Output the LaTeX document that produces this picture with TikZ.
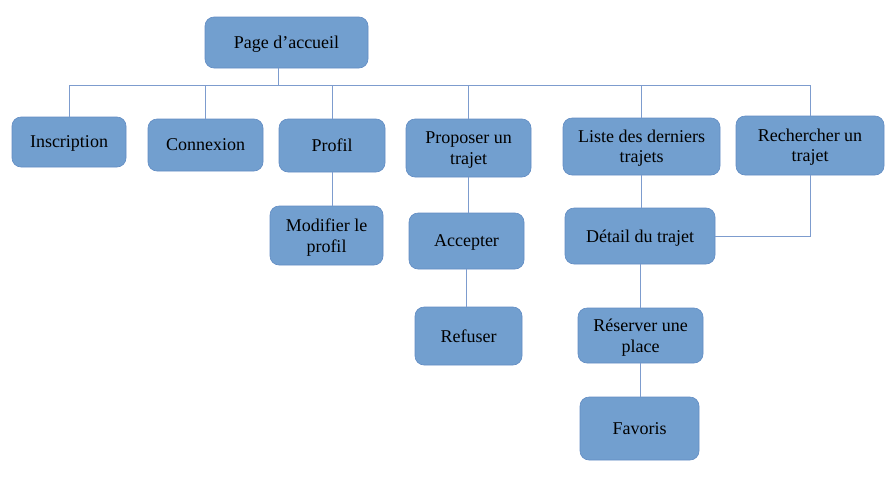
\documentclass[tikz,border=0pt]{standalone}
\usepackage{fontspec}
\setmainfont{Liberation Serif}
\usepackage{tikz}
\usepackage{xcolor}
\definecolor{bleu}{RGB}{114,159,207}
\definecolor{bord}{RGB}{98,140,195}
\definecolor{trait}{RGB}{125,156,206}

\begin{document}
\begin{tikzpicture}[x=1pt,y=-1pt,
		boite/.style={rectangle,rounded corners=9pt,fill=bleu,draw=bord,line width=0.6pt,
			align=center,inner sep=0pt,text depth=0pt,font=\fontsize{18}{20.5}\selectfont},
		lien/.style={draw=trait,line width=0.8pt}]
			\useasboundingbox (0,0) rectangle (893,493);
			\coordinate (1) at (286.5,42.5);
			\coordinate (2) at (69,142);
			\coordinate (3) at (205.5,145);
			\coordinate (4) at (332,145.5);
			\coordinate (5) at (468.5,148);
			\coordinate (6) at (641.5,146.5);
			\coordinate (7) at (810,145.5);
			\coordinate (8) at (326.5,235.5);
			\coordinate (9) at (466.5,241);
			\coordinate (10) at (640,236);
			\coordinate (11) at (468.5,336);
			\coordinate (12) at (640.5,335.5);
			\coordinate (13) at (639.5,428.5);
			\coordinate (bus) at (278,85);
			\node [boite,minimum width=163pt,minimum height=51pt] (accueil) at (1) {Page d’accueil};
			\node [boite,minimum width=114pt,minimum height=50pt] (inscription) at (2) {Inscription};
			\node [boite,minimum width=115pt,minimum height=52pt] (connexion) at (3) {Connexion};
			\node [boite,minimum width=106pt,minimum height=53pt] (profil) at (4) {Profil};
			\node [boite,minimum width=125pt,minimum height=58pt] (proposer) at (5) {Proposer un\\trajet};
			\node [boite,minimum width=157pt,minimum height=57pt] (liste) at (6) {Liste des derniers\\trajets};
			\node [boite,minimum width=148pt,minimum height=59pt] (rechercher) at (7) {Rechercher un\\trajet};
			\node [boite,minimum width=113pt,minimum height=59pt] (modifier) at (8) {Modifier le\\profil};
			\node [boite,minimum width=115pt,minimum height=56pt] (accepter) at (9) {Accepter};
			\node [boite,minimum width=150pt,minimum height=56pt] (detail) at (10) {Détail du trajet};
			\node [boite,minimum width=107pt,minimum height=58pt] (refuser) at (11) {Refuser};
			\node [boite,minimum width=125pt,minimum height=55pt] (reserver) at (12) {Réserver une\\place};
			\node [boite,minimum width=119pt,minimum height=63pt] (favoris) at (13) {Favoris};
			\draw [lien] (accueil.south -| bus) -- (bus);
			\foreach \Nom in {inscription,connexion,profil,proposer,liste,rechercher}
				\draw [lien] (\Nom.north) |- (bus);
			\draw [lien] (profil.south) -- (profil.south |- modifier.north);
			\draw [lien] (proposer.south) -- (proposer.south |- accepter.north);
			\draw [lien] (accepter.south) -- (accepter.south |- refuser.north);
			\draw [lien] (liste.south) -- (liste.south |- detail.north);
			\draw [lien] (rechercher.south) |- (detail.east);
			\draw [lien] (detail.south) -- (detail.south |- reserver.north);
			\draw [lien] (reserver.south) -- (reserver.south |- favoris.north);
		\end{tikzpicture}
\end{document}
